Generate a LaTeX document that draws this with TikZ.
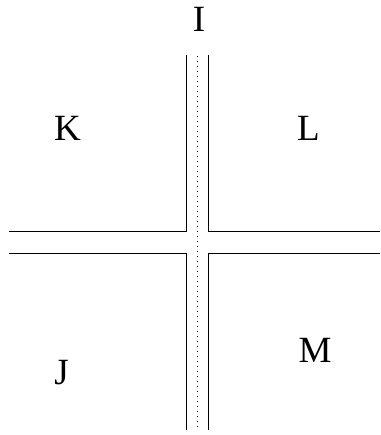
\documentclass[tikz,border=0pt]{standalone}
\usepackage{fontspec}
\setmainfont{Liberation Serif}
\tikzset{
  roadedge/.style={line width=1pt, black},
  centerline/.style={line width=1pt, black, dash pattern=on 1pt off 4pt},
  region/.style={font=\fontsize{37}{40}\selectfont, inner sep=0pt}
}
\begin{document}
\begin{tikzpicture}[x=1pt,y=-1pt]
\useasboundingbox (0,0) rectangle (380,435);
% road edges
\draw[roadedge] (186.7,55) -- (186.7,231.3) -- (9,231.3);
\draw[roadedge] (208.3,55) -- (208.3,231.3) -- (380,231.3);
\draw[roadedge] (9,253) -- (186.7,253) -- (186.7,430);
\draw[roadedge] (380,253) -- (208.3,253) -- (208.3,430);
% center line
\draw[centerline] (197.5,56) -- (197.5,430);
% labels
\node[region] (I) at (199,19.5) {I};
\node[region] (K) at (67.5,128) {K};
\node[region] (L) at (308.5,128) {L};
\node[region] (J) at (61.5,373) {J};
\node[region] (M) at (315,350) {M};
\end{tikzpicture}
\end{document}
